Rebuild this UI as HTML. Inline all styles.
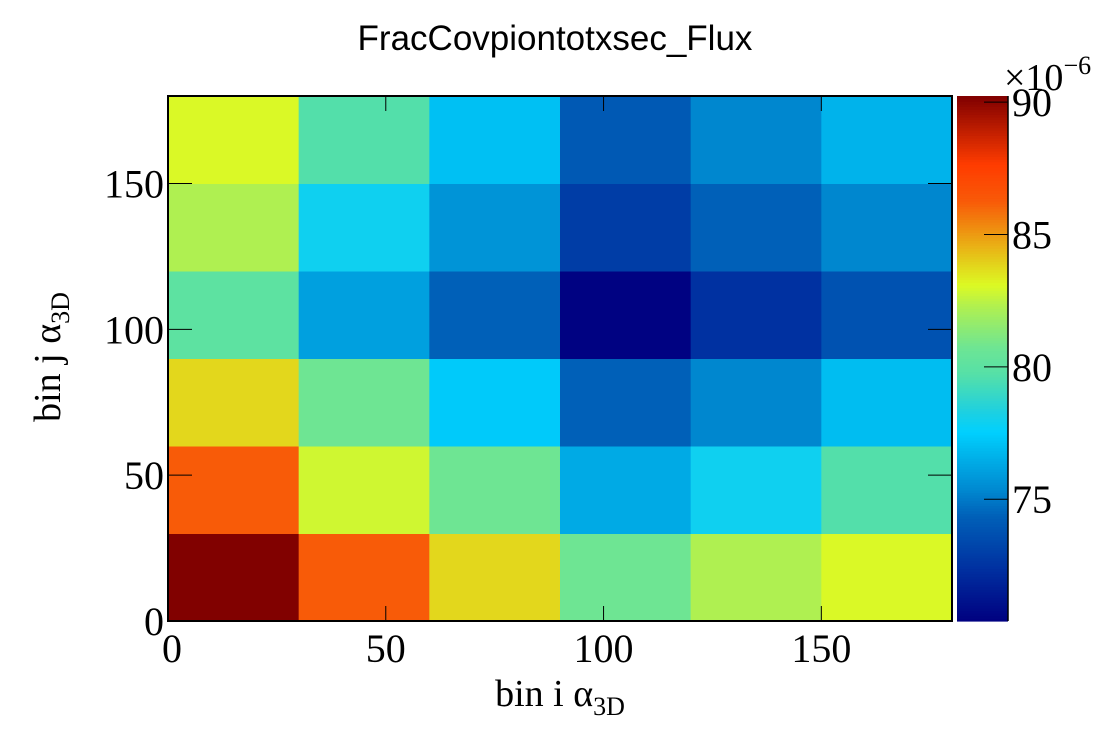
<!DOCTYPE html>
<html><head><meta charset="utf-8"><style>
html,body{margin:0;padding:0;background:#fff;width:1120px;height:740px;overflow:hidden}
text{font-family:"Liberation Serif",serif;fill:#000}
</style></head><body>
<svg id="chart" width="1120" height="740" xmlns="http://www.w3.org/2000/svg">
<text x="555" y="50" text-anchor="middle" style="font-family:'Liberation Sans',sans-serif;font-size:35px">FracCovpiontotxsec_Flux</text>
<g id="cells"></g>
<g id="cbar"></g>
<g id="axes"></g>
<text x="560" y="706" text-anchor="middle" font-size="38">bin i α<tspan font-size="26" dy="9">3D</tspan></text>
<text transform="translate(60,357) rotate(-90)" text-anchor="middle" font-size="38">bin j α<tspan font-size="26" dy="9">3D</tspan></text>
<text x="1004" y="90" font-size="38">×10<tspan font-size="26" dy="-16">−6</tspan></text>
</svg>
<script>
// data (x1e-6), rows j=0..5 bottom to top, columns i=0..5
const xEdges=[0,30,60,90,120,150,180];
const yEdges=[0,30,60,90,120,150,180];
const row0=[90.2,86.24,83.83,80.74,82.28,83.05];
const row1=[86.24,82.86,80.74,76.39,77.93,79.67];
const row2=[83.83,80.74,77.36,74.36,75.33,76.97];
const row3=[80.06,76.1,74.36,70.5,72.43,73.78];
const row4=[82.28,77.93,75.71,72.91,74.36,75.33];
const row5=[83.05,79.67,77.07,74.07,75.33,76.68];
const axisTicks=[0,50,100,150];
const zTicks=[75,80,85,90];
const zMin=70.4, zMax=90.23;
const rows=[row0,row1,row2,row3,row4,row5];

const NS="http://www.w3.org/2000/svg";
const L=168,R=952,T=96,B=621;
const sx=v=>L+(v-0)/(180-0)*(R-L);
const sy=v=>B-(v-0)/(180-0)*(B-T);
const CB0=957,CB1=1008;
const sz=v=>B-(v-zMin)/(zMax-zMin)*(B-T);
const stops=[[0,[0,0,128]],[0.1,[0,48,160]],[0.2,[0,96,184]],[0.25,[0,136,208]],[0.33,[0,188,240]],[0.36,[0,208,255]],[0.40,[30,208,224]],[0.47,[85,224,168]],[0.52,[109,229,148]],[0.6,[176,240,80]],[0.64,[220,250,36]],[0.68,[227,212,27]],[0.8,[248,90,8]],[0.87,[255,60,0]],[1,[128,0,0]]];
function pal(t){t=Math.max(0,Math.min(1,t));
 for(let k=1;k<stops.length;k++){if(t<=stops[k][0]){const a=stops[k-1],b=stops[k],f=(t-a[0])/(b[0]-a[0]);
  return 'rgb('+a[1].map((c,i)=>Math.round(c+(b[1][i]-c)*f)).join(',')+')';}}
 return 'rgb(128,0,0)';}
const col=v=>pal((v-zMin)/(zMax-zMin));
function mk(tag,a,p){const e=document.createElementNS(NS,tag);for(const k in a)e.setAttribute(k,a[k]);p.appendChild(e);return e;}

const cells=document.getElementById('cells');
rows.forEach((r,j)=>r.forEach((v,i)=>{
 const x0=sx(xEdges[i]),x1=sx(xEdges[i+1]),y0=sy(yEdges[j+1]),y1=sy(yEdges[j]);
 const e=mk('rect',{x:x0,y:y0,width:x1-x0+0.5,height:y1-y0+0.5,fill:col(v)},cells);
 
 
}));

const cb=document.getElementById('cbar');
for(let k=0;k<200;k++){
 const v0=zMin+(zMax-zMin)*k/200, v1=zMin+(zMax-zMin)*(k+1)/200;
 const e=mk('rect',{x:CB0,y:sz(v1),width:CB1-CB0,height:sz(v0)-sz(v1)+0.6,fill:col((v0+v1)/2)},cb);
 
 
}
mk('line',{x1:CB1,y1:T,x2:CB1,y2:B,stroke:'#000','stroke-width':1.5},cb);
zTicks.forEach(z=>{
 mk('line',{x1:CB1-24,y1:sz(z),x2:CB1,y2:sz(z),stroke:'#000','stroke-width':1},cb);
 const t=mk('text',{x:CB1+4,y:sz(z)+14,'font-size':40},cb);t.textContent=z;
 
 
});

const ax=document.getElementById('axes');
mk('rect',{x:L,y:T,width:R-L,height:B-T,fill:'none',stroke:'#000','stroke-width':2},ax);
axisTicks.forEach(v=>{
 mk('line',{x1:sx(v),y1:B,x2:sx(v),y2:B-15,stroke:'#000'},ax);
 mk('line',{x1:sx(v),y1:T,x2:sx(v),y2:T+15,stroke:'#000'},ax);
 mk('line',{x1:L,y1:sy(v),x2:L+24,y2:sy(v),stroke:'#000'},ax);
 mk('line',{x1:R,y1:sy(v),x2:R-24,y2:sy(v),stroke:'#000'},ax);
 const tx=mk('text',{x:sx(v)+(v===0?4:0),y:662,'text-anchor':'middle','font-size':40},ax);tx.textContent=v;
 
 
 const ty=mk('text',{x:164,y:sy(v)+14,'text-anchor':'end','font-size':40},ax);ty.textContent=v;
 
 
});
</script>
</body></html>
